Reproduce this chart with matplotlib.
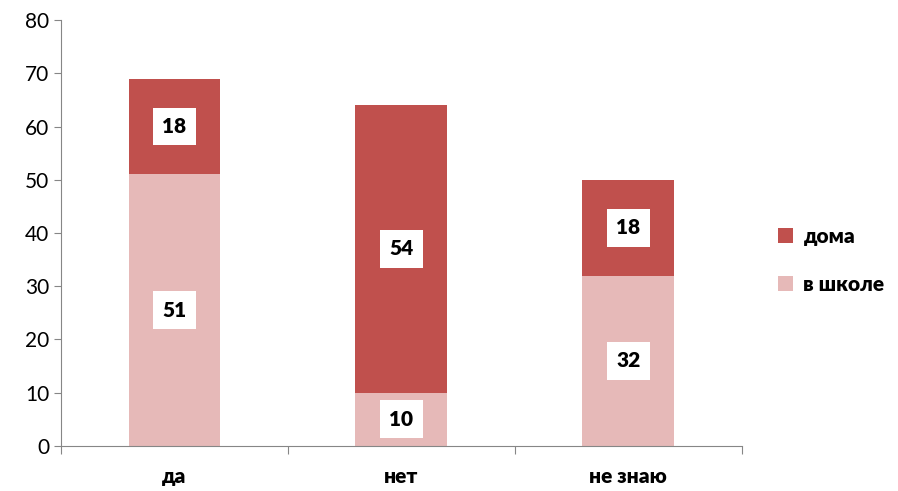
import numpy as np
import matplotlib.pyplot as plt

plt.rcParams['font.family'] = ['Lato', 'DejaVu Sans']

categories = ['да', 'нет', 'не знаю']
school = [51, 10, 32]
home = [18, 54, 18]

fig = plt.figure(figsize=(8.98, 4.91), dpi=100)
ax = fig.add_axes([0.068, 0.092, 0.758, 0.867])

x = np.arange(len(categories))
w = 0.405
b1 = ax.bar(x, school, w, color='#E6B9B8', label='в школе')
b2 = ax.bar(x, home, w, bottom=school, color='#C0504D', label='дома')

box = dict(boxstyle='square,pad=0.45', fc='white', ec='none')
for i in range(len(categories)):
    ax.text(x[i], school[i] / 2, str(school[i]), ha='center', va='center',
            fontsize=15, fontweight='heavy', bbox=box)
    ax.text(x[i], school[i] + home[i] / 2, str(home[i]), ha='center', va='center',
            fontsize=15, fontweight='heavy', bbox=box)

ax.set_xlim(-0.5, 2.5)
ax.set_ylim(0, 80)
ax.set_yticks(range(0, 81, 10))
ax.tick_params(axis='y', labelsize=15, length=5, color='#868686')
ax.set_xticks([-0.5, 0.5, 1.5, 2.5])
ax.set_xticklabels([])
ax.set_xticks(x, minor=True)
ax.set_xticklabels(categories, minor=True, fontsize=15, fontweight='heavy')
ax.tick_params(axis='x', which='major', length=6, color='#868686')
ax.tick_params(axis='x', which='minor', length=0, pad=15)

for s in ['top', 'right']:
    ax.spines[s].set_visible(False)
for s in ['left', 'bottom']:
    ax.spines[s].set_color('#868686')

handles = [b2, b1]
fig.legend(handles, ['дома', 'в школе'], loc='center left', bbox_to_anchor=(0.846, 0.47),
           frameon=False, prop={'size': 15, 'weight': 'heavy'}, handlelength=0.7,
           handleheight=0.7, labelspacing=1.4, handletextpad=0.5)

fig.savefig('out.png', dpi=100)
